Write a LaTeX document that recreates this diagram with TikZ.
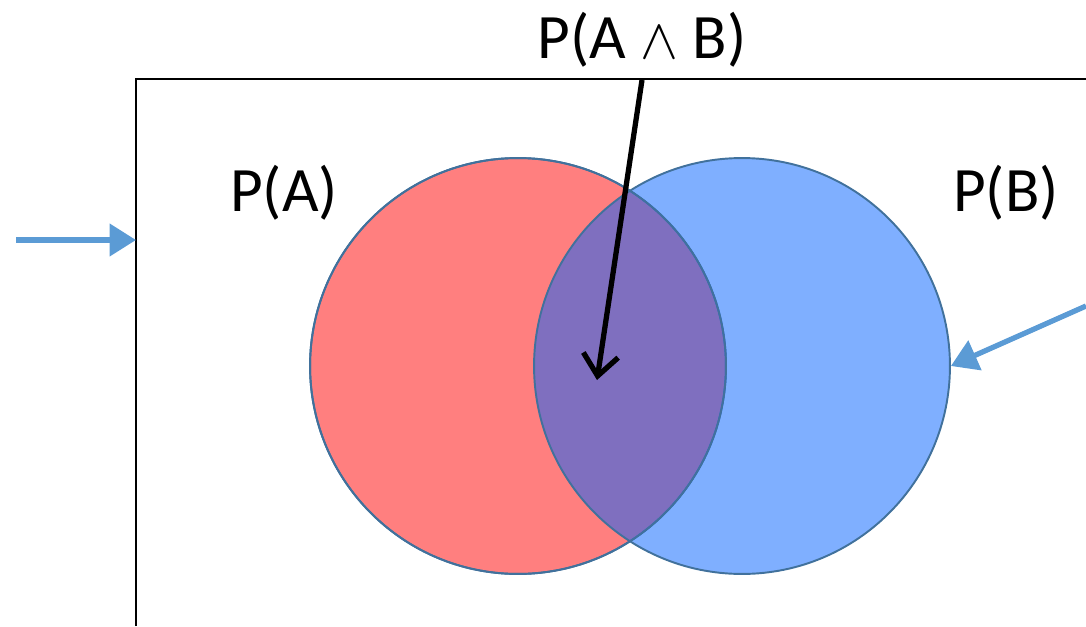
\documentclass[tikz,border=0pt]{standalone}
\usepackage{fontspec}
\setmainfont{Carlito}
\usepackage{xcolor}
\usepackage{tikz}
\usetikzlibrary{arrows.meta}

\definecolor{setred}{RGB}{255,0,0}
\definecolor{setblue}{RGB}{0,96,255}
\definecolor{rimblue}{RGB}{65,113,156}
\definecolor{pointer}{RGB}{91,155,213}

\tikzset{
  setdisc/.style={circle, minimum size=8.32cm, inner sep=0pt, draw=rimblue, line width=1.1pt, fill opacity=0.5},
  setlabel/.style={font=\fontsize{36}{42}\selectfont, inner sep=0pt},
  bluearrow/.style={pointer, line width=3pt, -{Triangle[length=15pt, width=18pt]}},
}

\begin{document}
\begin{tikzpicture}[x=0.02cm, y=-0.02cm]
    \useasboundingbox (0,0) rectangle (1086,626);
    % Sample space frame
    \draw[line width=1.3pt] (136,626) -- (136,79) -- (1086,79);
    % Event discs
    \node[setdisc, fill=setred] (evA) at (518,366) {};
    \node[setdisc, fill=setblue] (evB) at (742,366) {};
    \draw[rimblue, line width=1.1pt] (evA) circle[radius=4.16cm];
    % Labels
    \node[setlabel] (labA) at (284,193) {P(A)};
    \node[setlabel] (labB) at (1006,193) {P(B)};
    \node[setlabel, anchor=base] (labAB) at (642,58) {P(A \scalebox{1.3}{$\wedge$} B)};
    % Pointers
    \coordinate (inside) at (597,380);
    \coordinate (leftend) at (16,240);
    \coordinate (frameleft) at (136,240);
    \coordinate (rightend) at (1086,306);
    \draw[line width=3pt, -{Straight Barb[length=12pt, width=20pt]}] (642,80) -- (inside);
    \draw[bluearrow] (leftend) -- (frameleft);
    \draw[bluearrow] (rightend) -- (evB.east);
\end{tikzpicture}
\end{document}
